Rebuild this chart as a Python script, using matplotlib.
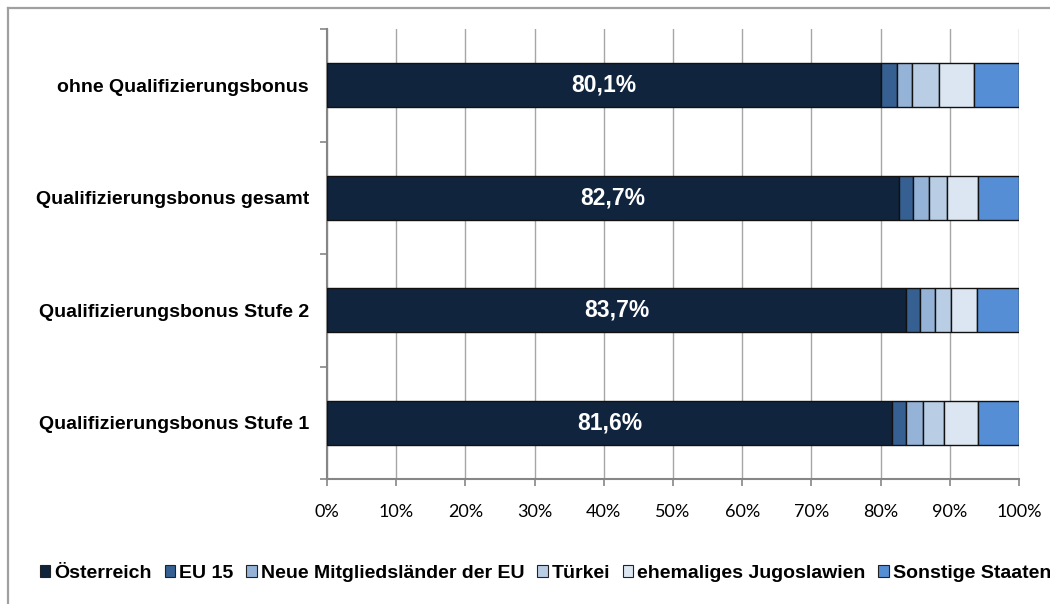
import matplotlib.pyplot as plt
from matplotlib.patches import Patch
from matplotlib.lines import Line2D
import numpy as np

# categories from top to bottom
categories = ["ohne Qualifizierungsbonus", "Qualifizierungsbonus gesamt",
              "Qualifizierungsbonus Stufe 2", "Qualifizierungsbonus Stufe 1"]
series = ["Österreich", "EU 15", "Neue Mitgliedsländer der EU", "Türkei",
          "ehemaliges Jugoslawien", "Sonstige Staaten"]
oesterreich = [80.1, 82.7, 83.7, 81.6]
eu15 = [2.3, 2.0, 2.0, 2.1]
neue_eu = [2.2, 2.3, 2.1, 2.4]
tuerkei = [3.8, 2.6, 2.4, 3.0]
jugoslawien = [5.1, 4.5, 3.8, 5.0]
sonstige = [6.5, 5.9, 6.0, 5.9]
colors = ["#10243E", "#366092", "#95B3D7", "#B9CDE5", "#DCE6F2", "#558ED5"]
xticks = list(range(0, 101, 10))

fig = plt.figure(figsize=(10.5, 6.04), dpi=100)
ax = fig.add_axes([327/1050, 125/604, 692/1050, 450/604])

y = np.arange(len(categories))[::-1]
data = [oesterreich, eu15, neue_eu, tuerkei, jugoslawien, sonstige]
left = np.zeros(len(categories))
for vals, col, name in zip(data, colors, series):
    ax.barh(y, vals, left=left, height=0.39, color=col, edgecolor="#111111",
            linewidth=1, label=name, zorder=3)
    left += np.array(vals)

for yi, v in zip(y, oesterreich):
    ax.text(v / 2, yi, f"{v:.1f}%".replace(".", ","), color="white",
            ha="center", va="center", fontsize=16.5, fontweight="bold",
            family="Liberation Sans", zorder=4)

ax.set_xlim(0, 100)
ax.set_ylim(-0.5, 3.5)
ax.set_xticks(xticks)
ax.set_xticklabels([f"{t}%" for t in xticks], family="Lato", fontsize=13)
ax.xaxis.grid(True, color="#A6A6A6", linewidth=1, zorder=0)
ax.set_yticks(y)
ax.set_yticklabels(categories, family="Liberation Sans", fontweight="bold", fontsize=14)
ax.set_yticks(np.arange(-0.5, 4, 1), minor=True)
ax.tick_params(axis="y", which="major", length=0, pad=13)
ax.tick_params(axis="y", which="minor", length=5, color="#868686", width=1.2)
ax.tick_params(axis="x", length=5, color="#868686", width=1.2, pad=13)
for s in ["top", "right"]:
    ax.spines[s].set_visible(False)
for s in ["left", "bottom"]:
    ax.spines[s].set_color("#868686")
    ax.spines[s].set_linewidth(1.5)

handles = [Patch(facecolor=c, edgecolor="#222222", linewidth=0.8) for c in colors]
leg = fig.legend(handles, series, loc="lower left", bbox_to_anchor=(32/1050, 14/604),
                 ncol=6, frameon=False, handlelength=0.55, handleheight=0.55,
                 handletextpad=0.2, columnspacing=0.65, borderaxespad=0,
                 prop={"family": "Liberation Sans", "weight": "bold", "size": 14})

# outer frame
fig.add_artist(Line2D([8/1050, 1], [1 - 8/604, 1 - 8/604], color="#A0A0A0", linewidth=1.6))
fig.add_artist(Line2D([8/1050, 8/1050], [0, 1 - 8/604], color="#A0A0A0", linewidth=1.6))

fig.savefig("out.png", dpi=100)
